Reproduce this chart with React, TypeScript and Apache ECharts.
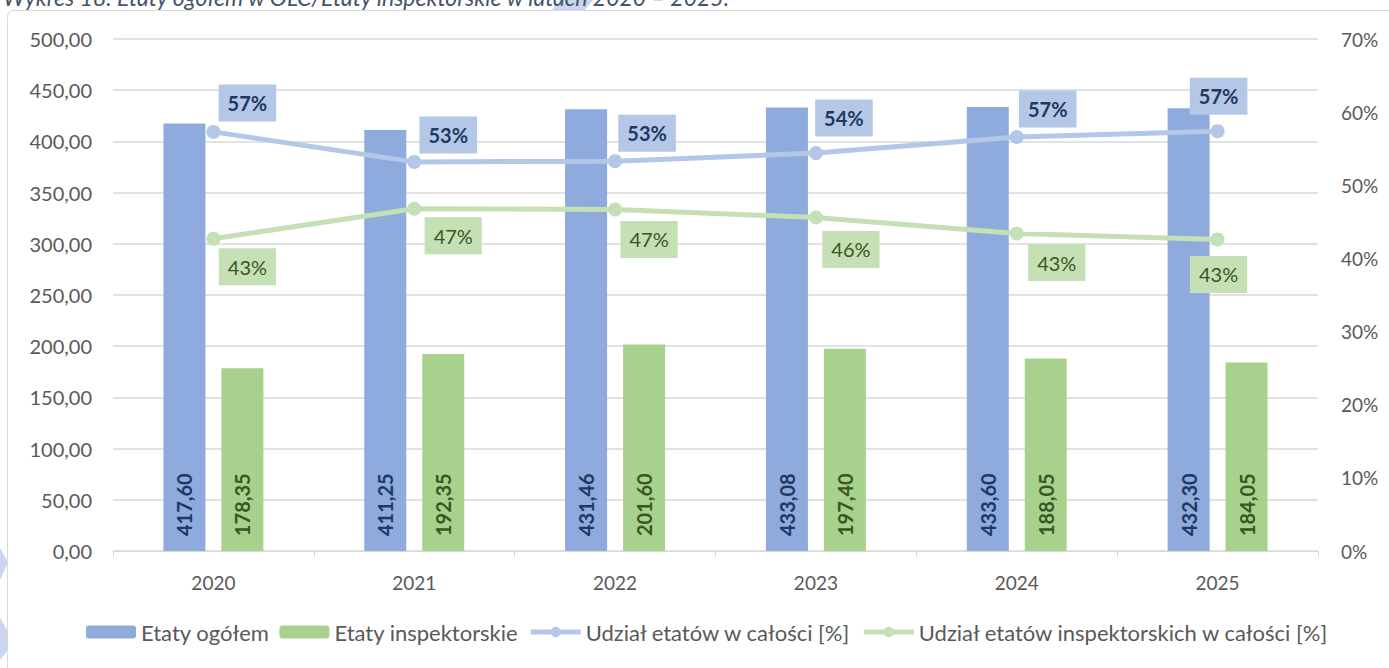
import React, { useEffect, useRef } from "react";
import * as echarts from "echarts";

const years = ["2020", "2021", "2022", "2023", "2024", "2025"];
const etatyOgolem = [417.6, 411.25, 431.46, 433.08, 433.6, 432.3];
const etatyInspektorskie = [178.35, 192.35, 201.6, 197.4, 188.05, 184.05];
const udzialCalosci = [57.3, 53.2, 53.3, 54.4, 56.6, 57.4];
const udzialInspektorskich = [42.7, 46.8, 46.7, 45.6, 43.4, 42.6];

const seriesNames = [
  "Etaty ogółem",
  "Etaty inspektorskie",
  "Udział etatów w całości [%]",
  "Udział etatów inspektorskich w całości [%]",
];
const titleText =
  "Wykres 18. Etaty ogółem w OLC/Etaty inspektorskie w latach 2020 – 2025.";

// label placement offsets (styling, not data)
const blueLabelOffsets = [
  [34, -29],
  [34, -27],
  [32, -28],
  [28, -35],
  [31, -28],
  [1, -35],
];
const greenLabelOffsets = [
  [34, 28],
  [39, 27],
  [34, 30],
  [35, 32],
  [40, 29],
  [1, 35],
];

const FONT = 'Lato, "Noto Sans", sans-serif';
const AXIS_COLOR = "#595959";

export default function App() {
  const ref = useRef<HTMLDivElement>(null);

  useEffect(() => {
    if (!ref.current) return;
    const chart = echarts.init(ref.current, undefined, { renderer: "svg" });

    const fmtNum = (v: number) => v.toFixed(2).replace(".", ",");

    const option = {
      animation: false,
      backgroundColor: "#ffffff",
      textStyle: { fontFamily: FONT },
      graphic: [
        {
          type: "polygon",
          z: 0,
          shape: { points: [[560, 0], [593, 0], [584, 11], [551, 11]] },
          style: { fill: "#C9D6EF" },
          silent: true,
        },
        {
          type: "polygon",
          z: 0,
          shape: { points: [[0, 548], [8, 562], [0, 580]] },
          style: { fill: "#C9D6EF" },
          silent: true,
        },
        {
          type: "polygon",
          z: 0,
          shape: { points: [[0, 618], [8, 632], [8, 650], [0, 660]] },
          style: { fill: "#C9D6EF" },
          silent: true,
        },
        {
          type: "text",
          z: 1,
          x: 3,
          y: -3,
          style: {
            text: titleText,
            fill: "#44546A",
            font: `italic 23px ${FONT}`,
            verticalAlign: "middle",
          },
          silent: true,
        },
        {
          type: "rect",
          z: 0,
          shape: { x: 7.5, y: 10.5, width: 1420, height: 720, r: 6 },
          style: { fill: "#ffffff", stroke: "#D9D9D9", lineWidth: 1 },
          silent: true,
        },
      ],
      grid: { left: 113, right: 71, top: 39, bottom: 117, containLabel: false },
      legend: {
        bottom: 20,
        left: 81,
        itemWidth: 50,
        itemHeight: 13,
        itemGap: 10,
        lineStyle: { width: 5 },
        textStyle: { fontSize: 22, color: AXIS_COLOR, fontFamily: FONT },
        data: seriesNames,
      },
      xAxis: {
        type: "category",
        data: years,
        boundaryGap: true,
        axisLine: { lineStyle: { color: "#D9D9D9", width: 1 } },
        axisTick: { show: true, alignWithLabel: false, length: 6, lineStyle: { color: "#D9D9D9" } },
        axisLabel: { color: AXIS_COLOR, fontSize: 19, margin: 22, fontFamily: FONT },
      },
      yAxis: [
        {
          type: "value",
          min: 0,
          max: 500,
          interval: 50,
          axisLine: { show: false },
          axisTick: { show: false },
          splitLine: { lineStyle: { color: "#D9D9D9", width: 1.5 } },
          axisLabel: {
            color: AXIS_COLOR,
            fontSize: 20,
            margin: 21,
            fontFamily: FONT,
            formatter: (v: number) => fmtNum(v),
          },
        },
        {
          type: "value",
          min: 0,
          max: 70,
          interval: 10,
          axisLine: { show: false },
          axisTick: { show: false },
          splitLine: { show: false },
          axisLabel: {
            color: AXIS_COLOR,
            fontSize: 19,
            margin: 23,
            fontFamily: FONT,
            formatter: (v: number) => `${v}%`,
          },
        },
      ],
      series: [
        {
          name: seriesNames[0],
          type: "bar",
          data: etatyOgolem,
          barWidth: 42,
          barGap: "38%",
          itemStyle: { color: "#8FAADC" },
          label: {
            show: true,
            position: "insideBottom",
            rotate: 90,
            align: "left",
            verticalAlign: "middle",
            distance: 15,
            color: "#1F3864",
            fontWeight: "bold",
            fontSize: 20,
            fontFamily: FONT,
            formatter: (p: any) => fmtNum(p.value),
          },
          z: 2,
        },
        {
          name: seriesNames[1],
          type: "bar",
          data: etatyInspektorskie,
          barWidth: 42,
          barGap: "38%",
          itemStyle: { color: "#A9D18E" },
          label: {
            show: true,
            position: "insideBottom",
            rotate: 90,
            align: "left",
            verticalAlign: "middle",
            distance: 15,
            color: "#385723",
            fontWeight: "bold",
            fontSize: 20,
            fontFamily: FONT,
            formatter: (p: any) => fmtNum(p.value),
          },
          z: 2,
        },
        {
          name: seriesNames[2],
          type: "line",
          yAxisIndex: 1,
          data: udzialCalosci.map((v, i) => ({
            value: v,
            label: { offset: blueLabelOffsets[i] },
          })),
          symbol: "circle",
          symbolSize: 14,
          lineStyle: { color: "#B4C7E7", width: 5 },
          itemStyle: { color: "#B4C7E7" },
          label: {
            show: true,
            position: "inside",
            color: "#1F3864",
            fontWeight: "bold",
            fontSize: 20,
            fontFamily: FONT,
            backgroundColor: "#B4C7E7",
            padding: [9, 9, 8, 9],
            formatter: (p: any) => `${Math.round(p.value)}%`,
          },
          z: 5,
        },
        {
          name: seriesNames[3],
          type: "line",
          yAxisIndex: 1,
          data: udzialInspektorskich.map((v, i) => ({
            value: v,
            label: { offset: greenLabelOffsets[i] },
          })),
          symbol: "circle",
          symbolSize: 14,
          lineStyle: { color: "#C5E0B4", width: 5 },
          itemStyle: { color: "#C5E0B4" },
          label: {
            show: true,
            position: "inside",
            color: "#385723",
            fontSize: 20,
            fontFamily: FONT,
            backgroundColor: "#C5E0B4",
            padding: [9, 9, 8, 9],
            formatter: (p: any) => `${Math.round(p.value)}%`,
          },
          z: 5,
        },
      ],
    };

    chart.setOption(option as any);
    return () => chart.dispose();
  }, []);

  return (
    <div
      ref={ref}
      style={{ position: "absolute", left: 0, top: 0, width: 1389, height: 668 }}
    />
  );
}
